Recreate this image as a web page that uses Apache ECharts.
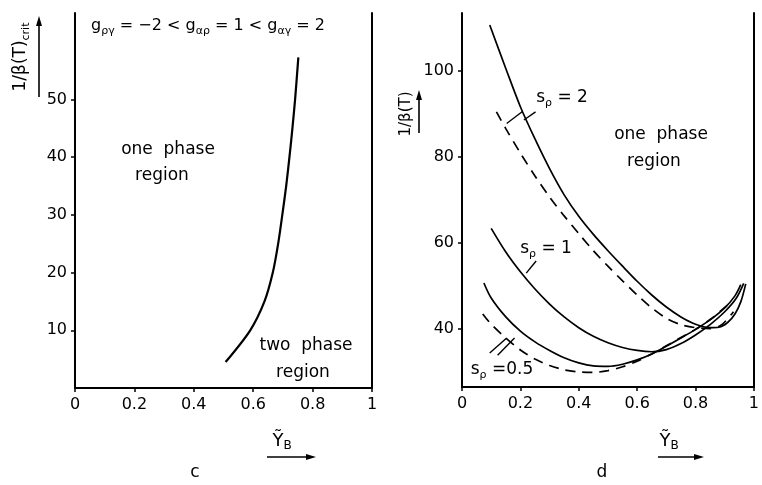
<!DOCTYPE html>
<html><head><meta charset="utf-8">
<script src="https://cdn.jsdelivr.net/npm/echarts@6/dist/echarts.min.js"></script>
<style>html,body{margin:0;padding:0;background:#fff}#c{width:762px;height:485px}</style>
</head><body><div id="c"></div>
<script>
// ---- data ----
const xTickValues = [0, 0.2, 0.4, 0.6, 0.8, 1];
const yTickValuesC = [10, 20, 30, 40, 50];
const yTickValuesD = [40, 60, 80, 100];

// panel c: critical 1/beta vs Y_B
const critCurve = [[0.507,4.5],[0.59,10],[0.638,15],[0.666,20],[0.684,25],[0.698,30],[0.711,35],[0.722,40],[0.732,45],[0.741,50],[0.752,57.3]];

// panel d
const s2Solid = [[0.095,110.7],[0.15,100.6],[0.2,91.7],[0.25,84.2],[0.3,77.3],[0.35,71.2],[0.4,66.2],[0.45,62.0],[0.5,58.2],[0.55,54.6],[0.6,51.1],[0.65,47.9],[0.7,45.1],[0.75,42.8],[0.8,41.1],[0.85,40.3],[0.88,40.4],[0.91,41.5],[0.935,43.5],[0.955,46.3],[0.972,50.5]];
const s2Dashed = [[0.118,90.5],[0.15,86.6],[0.2,80.9],[0.25,75.6],[0.3,70.7],[0.35,66.3],[0.4,62.2],[0.45,58.2],[0.5,54.6],[0.55,51.2],[0.6,47.9],[0.65,44.9],[0.7,42.5],[0.75,41.0],[0.8,40.3],[0.85,40.1],[0.89,41.0],[0.93,44.0]];
const s1Solid = [[0.1,63.4],[0.15,57.9],[0.2,53.3],[0.25,49.3],[0.3,45.8],[0.35,42.8],[0.4,40.3],[0.45,38.3],[0.5,36.8],[0.55,35.7],[0.6,35.0],[0.65,34.7],[0.7,35.2],[0.75,36.6],[0.8,38.6],[0.85,41.0],[0.9,44.0],[0.94,47.2],[0.965,50.6]];
const s05Solid = [[0.075,50.7],[0.1,47.2],[0.15,42.8],[0.2,39.5],[0.25,37],[0.3,35],[0.35,33.3],[0.4,32.1],[0.45,31.4],[0.5,31.3],[0.55,31.8],[0.6,32.8],[0.65,34.2],[0.7,36],[0.75,37.9],[0.8,39.9],[0.85,42.1],[0.9,44.9],[0.935,47.7],[0.955,50.3]];
const s05Dashed = [[0.071,43.5],[0.1,41.1],[0.15,37.9],[0.2,35.1],[0.25,33.0],[0.3,31.5],[0.35,30.5],[0.4,30.0],[0.45,29.9],[0.5,30.3],[0.55,31.2],[0.6,32.5],[0.65,34.2],[0.7,36.1],[0.75,38.0],[0.8,39.9],[0.85,42.2],[0.9,45.0],[0.925,46.6]];

// leader lines (data coordinates of panel d)
const leaderS2 = [[[0.153,87.8],[0.207,90.6]],[[0.212,88.6],[0.252,90.5]]];
const leaderS1 = [[[0.22,53],[0.254,55.8]]];
const leaderS05 = [[[0.095,34.4],[0.153,37.9]],[[0.122,33.9],[0.18,37.9]]];

// ---- chart ----
const FONT = 'DejaVu Sans';
const chart = echarts.init(document.getElementById('c'));
const axisLine = {show:true, lineStyle:{color:'#000', width:2}};
const tickStyle = {show:true, length:4, lineStyle:{color:'#000', width:1.5}};
const lab = {color:'#000', fontSize:16, fontFamily:FONT};

function leaders(list){
  return {silent:true, symbol:['none','none'], label:{show:false},
    lineStyle:{color:'#000', width:1.4, type:'solid'},
    data: list.map(seg => [{coord:seg[0]},{coord:seg[1]}])};
}
function ln(data, xi, yi, dashed, width, extra){
  return Object.assign({type:'line', xAxisIndex:xi, yAxisIndex:yi, data:data,
    showSymbol:false, smooth:0.3, animation:false, silent:true,
    lineStyle:{color:'#000', width:width, type: dashed ? [10,7] : 'solid'}}, extra||{});
}
function rt(x, y, text, size, align){
  return {type:'text', x:x, y:y, silent:true, style:{
    text:text, x:0, y:0, align:align||'center', verticalAlign:'middle',
    font: size+'px "'+FONT+'"', fill:'#000',
    rich:{m:{fontSize:size, fontFamily:FONT, lineHeight:22, verticalAlign:'middle'},
          s:{fontSize:Math.round(size*0.66), fontFamily:FONT, lineHeight:10, verticalAlign:'bottom'}}}};
}
function arrowH(x1, x2, y){
  return [{type:'line', shape:{x1:x1,y1:y,x2:x2-7,y2:y}, style:{stroke:'#000', lineWidth:1.6}},
          {type:'polygon', shape:{points:[[x2,y],[x2-10,y-3],[x2-10,y+3]]}, style:{fill:'#000'}}];
}
function arrowV(x, y1, y2){
  return [{type:'line', shape:{x1:x,y1:y1,x2:x,y2:y2+7}, style:{stroke:'#000', lineWidth:1.6}},
          {type:'polygon', shape:{points:[[x,y2],[x-3,y2+10],[x+3,y2+10]]}, style:{fill:'#000'}}];
}

const option = {
  backgroundColor:'#fff',
  animation:false,
  grid:[{left:75, top:13, width:297, height:375},
        {left:462, top:13, width:296, height:374}],
  xAxis:[
    {gridIndex:0, type:'value', min:0, max:1, axisLine:axisLine, splitLine:{show:false},
     axisTick:Object.assign({customValues:xTickValues}, tickStyle),
     axisLabel:Object.assign({customValues:xTickValues, margin:9}, lab)},
    {gridIndex:1, type:'value', min:0, max:1, axisLine:axisLine, splitLine:{show:false},
     axisTick:Object.assign({customValues:xTickValues}, tickStyle),
     axisLabel:Object.assign({customValues:xTickValues, margin:9}, lab)}
  ],
  yAxis:[
    {gridIndex:0, type:'value', min:0, max:65, axisLine:axisLine, splitLine:{show:false},
     axisTick:Object.assign({customValues:yTickValuesC}, tickStyle),
     axisLabel:Object.assign({customValues:yTickValuesC, margin:8}, lab)},
    {gridIndex:0, type:'value', position:'right', min:0, max:65, axisLine:axisLine,
     splitLine:{show:false}, axisTick:{show:false}, axisLabel:{show:false}},
    {gridIndex:1, type:'value', min:26.5, max:113.5, axisLine:axisLine, splitLine:{show:false},
     axisTick:Object.assign({customValues:yTickValuesD}, tickStyle),
     axisLabel:Object.assign({customValues:yTickValuesD, margin:8}, lab)},
    {gridIndex:1, type:'value', position:'right', min:26.5, max:113.5, axisLine:axisLine,
     splitLine:{show:false}, axisTick:{show:false}, axisLabel:{show:false}}
  ],
  series:[
    ln(critCurve, 0, 0, false, 2.2),
    ln(s2Solid, 1, 2, false, 1.7, {markLine:leaders(leaderS2)}),
    ln(s2Dashed, 1, 2, true, 1.7),
    ln(s1Solid, 1, 2, false, 1.7, {markLine:leaders(leaderS1)}),
    ln(s05Solid, 1, 2, false, 1.7, {markLine:leaders(leaderS05)}),
    ln(s05Dashed, 1, 2, true, 1.7)
  ],
  graphic:[
    // panel c texts
    rt(208, 26, '{m|g}{s|ργ}{m| = −2 < g}{s|αρ}{m| = 1 < g}{s|αγ}{m| = 2}', 16),
    rt(168, 150, 'one  phase', 17),
    rt(162, 176, 'region', 17),
    rt(306, 346, 'two  phase', 17),
    rt(303, 373, 'region', 17),
    rt(282, 441, '{m|Ỹ}{s|B}', 18),
    rt(195, 473, 'c', 17),
    Object.assign(rt(21, 57, '{m|1/β(T)}{s|crit}', 17), {rotation:Math.PI/2}),
    // panel d texts
    rt(661, 135, 'one  phase', 17),
    rt(654, 162, 'region', 17),
    rt(562, 98, '{m|s}{s|ρ}{m| = 2}', 17),
    rt(546, 249, '{m|s}{s|ρ}{m| = 1}', 17),
    rt(502, 370, '{m|s}{s|ρ}{m| =0.5}', 17),
    rt(669, 441, '{m|Ỹ}{s|B}', 18),
    rt(602, 473, 'd', 17),
    Object.assign(rt(406, 114, '1/β(T)', 15), {rotation:Math.PI/2})
  ].concat(arrowH(267, 316, 457), arrowH(658, 704, 457), arrowV(39, 97, 16), arrowV(419, 133, 90))
};
chart.setOption(option);
</script>
</body></html>
